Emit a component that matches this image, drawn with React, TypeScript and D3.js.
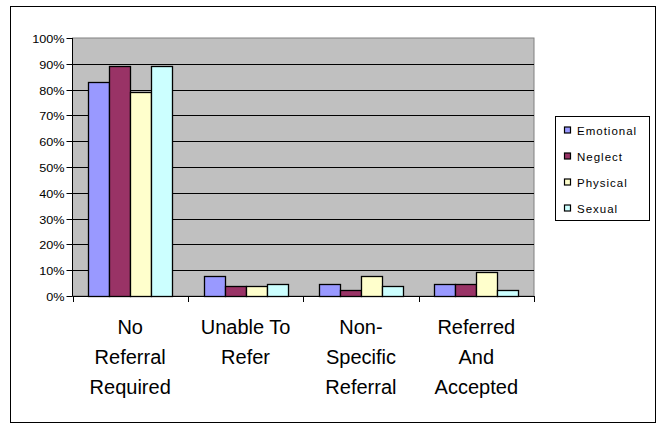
import { useEffect, useRef } from "react";
import * as d3 from "d3";

// Categorias (linhas do rótulo separadas por \n)
const categorias = [
  "No\nReferral\nRequired",
  "Unable To\nRefer",
  "Non-\nSpecific\nReferral",
  "Referred\nAnd\nAccepted"
];

const series = ["Emotional", "Neglect", "Physical", "Sexual"];

// Valores em % por série, na ordem das categorias
const emotional = [83, 7.6, 4.5, 4.5];
const neglect = [89, 3.9, 2.2, 4.5];
const physical = [79, 3.9, 7.6, 9.2];
const sexual = [89, 4.5, 3.9, 2.2];

const yTicks = [0, 10, 20, 30, 40, 50, 60, 70, 80, 90, 100];

const CORES: Record<string, string> = {
  Emotional: "#9999ff",
  Neglect: "#993366",
  Physical: "#ffffcc",
  Sexual: "#ccffff"
};

const App = () => {
  const svgRef = useRef<SVGSVGElement>(null);

  useEffect(() => {
    if (!svgRef.current) return;
    const svg = d3.select(svgRef.current);
    svg.selectAll("*").remove();

    const valores = [emotional, neglect, physical, sexual];
    const font = "'Liberation Sans', Arial, sans-serif";

    // Borda externa
    svg.append("rect")
      .attr("x", 10.5).attr("y", 6.5)
      .attr("width", 645).attr("height", 416)
      .attr("fill", "white").attr("stroke", "black");

    const plot = { left: 72.5, top: 38, right: 534, bottom: 296 };

    const x = d3.scaleBand()
      .domain(categorias)
      .range([plot.left, plot.right])
      .paddingInner(0)
      .paddingOuter(0);

    const xInner = d3.scaleBand()
      .domain(series)
      .range([0, x.bandwidth()])
      .paddingOuter(0.75)
      .paddingInner(0);

    const y = d3.scaleLinear().domain([0, 100]).range([plot.bottom, plot.top]);

    // Fundo do plot
    svg.append("rect")
      .attr("x", plot.left).attr("y", plot.top)
      .attr("width", plot.right - plot.left).attr("height", plot.bottom - plot.top)
      .attr("fill", "#c0c0c0").attr("stroke", "#808080");

    // Grade
    svg.append("g")
      .selectAll("line")
      .data(yTicks.filter((t) => t > 0 && t < 100))
      .enter()
      .append("line")
      .attr("x1", plot.left).attr("x2", plot.right)
      .attr("y1", (d) => Math.round(y(d)) + 0.5)
      .attr("y2", (d) => Math.round(y(d)) + 0.5)
      .attr("stroke", "black");

    // Barras
    categorias.forEach((cat, ci) => {
      series.forEach((s, si) => {
        const v = valores[si][ci];
        svg.append("rect")
          .attr("x", Math.round((x(cat) ?? 0) + (xInner(s) ?? 0)) + 0.5)
          .attr("y", Math.round(y(v)) + 0.5)
          .attr("width", Math.round(xInner.bandwidth()))
          .attr("height", plot.bottom - Math.round(y(v)))
          .attr("fill", CORES[s])
          .attr("stroke", "black")
          .attr("stroke-width", 1.3);
      });
    });

    // Eixo Y
    const yAxis = svg.append("g");
    yAxis.append("line")
      .attr("x1", plot.left).attr("x2", plot.left)
      .attr("y1", plot.top).attr("y2", plot.bottom)
      .attr("stroke", "black");
    yTicks.forEach((t) => {
      const yy = Math.round(y(t)) + 0.5;
      yAxis.append("line")
        .attr("x1", plot.left - 6).attr("x2", plot.left)
        .attr("y1", yy).attr("y2", yy)
        .attr("stroke", "black");
      yAxis.append("text")
        .attr("transform", `translate(${plot.left - 8},${yy + 4}) scale(1.15,1)`)
        .attr("text-anchor", "end")
        .style("font-family", font)
        .style("font-size", "11px")
        .text(`${t}%`);
    });

    // Eixo X
    const xAxis = svg.append("g").attr("transform", `translate(0,${plot.bottom})`);
    xAxis.append("line")
      .attr("x1", plot.left).attr("x2", plot.right)
      .attr("y1", 0.5).attr("y2", 0.5)
      .attr("stroke", "black");
    const bordas = [...categorias.map((c) => x(c) ?? 0), plot.right];
    xAxis.selectAll(".tick")
      .data(bordas)
      .enter()
      .append("line")
      .attr("x1", (d) => Math.round(d) + 0.5)
      .attr("x2", (d) => Math.round(d) + 0.5)
      .attr("y1", 0).attr("y2", 6)
      .attr("stroke", "black");

    // Rótulos das categorias
    categorias.forEach((cat) => {
      const cx = (x(cat) ?? 0) + x.bandwidth() / 2;
      cat.split("\n").forEach((linha, i) => {
        svg.append("text")
          .attr("x", cx)
          .attr("y", 334 + i * 30)
          .attr("text-anchor", "middle")
          .style("font-family", font)
          .style("font-size", "20px")
          .text(linha);
      });
    });

    // Legenda
    const leg = svg.append("g").attr("transform", "translate(555,116.5)");
    leg.append("rect")
      .attr("x", 0.5).attr("y", 0)
      .attr("width", 94).attr("height", 104)
      .attr("fill", "white").attr("stroke", "black");
    series.forEach((s, i) => {
      const yy = 14 + i * 26;
      leg.append("rect")
        .attr("x", 9.5).attr("y", yy - 3.5)
        .attr("width", 6).attr("height", 6)
        .attr("fill", CORES[s]).attr("stroke", "black")
        .attr("stroke-width", 1.2);
      leg.append("text")
        .attr("x", 22).attr("y", yy + 4.5)
        .style("font-family", font)
        .style("font-size", "11.5px")
        .style("letter-spacing", "1px")
        .text(s);
    });
  }, []);

  return <svg ref={svgRef} width={658} height={424} style={{ position: "absolute", left: 0, top: 0 }} />;
};

export default App;
